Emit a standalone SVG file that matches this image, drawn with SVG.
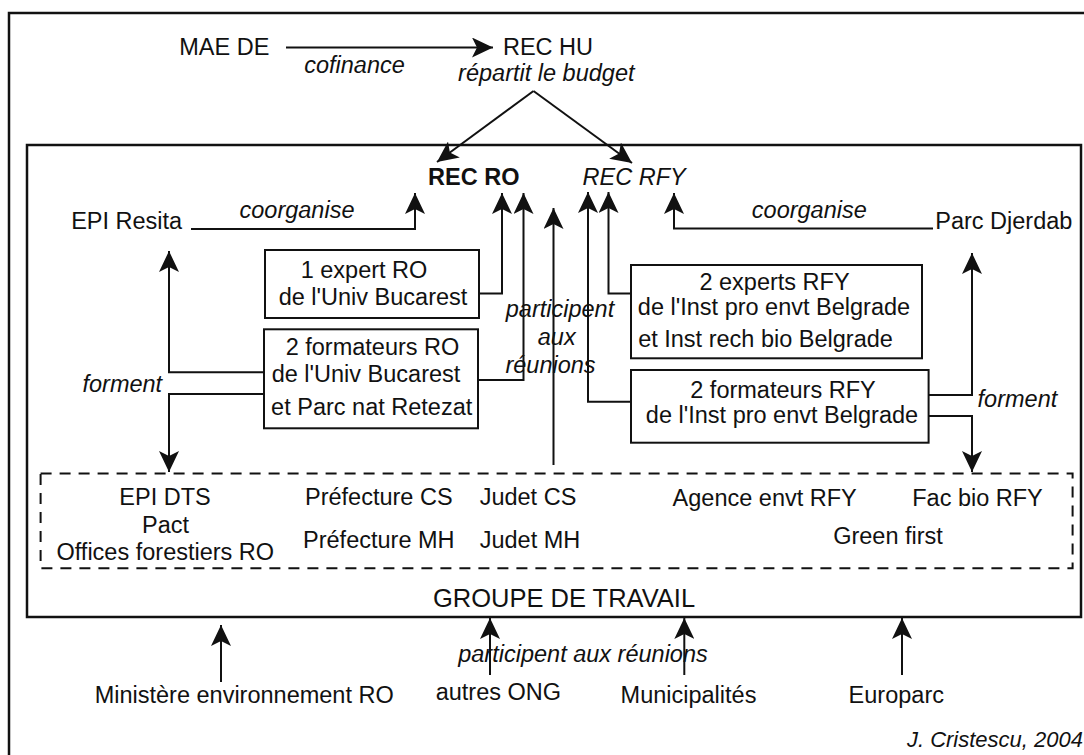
<svg xmlns="http://www.w3.org/2000/svg" width="1084" height="755" viewBox="0 0 1084 755">
<style>
  text { font-family: "Liberation Sans", Arial, sans-serif; font-size: 23.5px; fill: #111; text-anchor: middle; }
  .i { font-style: italic; }
  .b { font-weight: bold; }
  .box { fill: #fff; stroke: #111; stroke-width: 2; }
  .frame { fill: none; stroke: #111; stroke-width: 2.5; }
  .dash { fill: none; stroke: #111; stroke-width: 2; stroke-dasharray: 11 8; }
  .c { fill: none; stroke: #111; stroke-width: 2; marker-end: url(#ah); }
</style>
<defs>
  <marker id="ah" viewBox="0 0 21 20" refX="21" refY="10" markerWidth="21" markerHeight="20" markerUnits="userSpaceOnUse" orient="auto">
    <path d="M0,0 L21,10 L0,20 L5,10 z" fill="#111"/>
  </marker>
</defs>
<rect width="1084" height="755" fill="#fff"/>

<g id="outer-frame"><path class="frame" d="M9,760 V13 H1090"/></g>

<g id="groupe-de-travail">
  <rect class="frame" x="27" y="145" width="1054" height="472"/>
  <text x="564" y="606.7" style="font-size:25.5px">GROUPE DE TRAVAIL</text>
</g>

<g id="membres">
  <rect class="dash" x="40.6" y="473.5" width="1032" height="94.8"/>
  <text x="165" y="505">EPI DTS</text>
  <text x="165.5" y="532.7">Pact</text>
  <text x="165.3" y="560">Offices forestiers RO</text>
  <text x="378.8" y="505">Préfecture CS</text>
  <text x="378.8" y="548">Préfecture MH</text>
  <text x="528" y="505">Judet CS</text>
  <text x="530" y="548">Judet MH</text>
  <text x="764.7" y="506">Agence envt RFY</text>
  <text x="977.5" y="506">Fac bio RFY</text>
  <text x="888" y="544">Green first</text>
</g>

<g id="mae-de"><text x="224.3" y="55">MAE DE</text></g>
<g id="rec-hu"><text x="548" y="55">REC HU</text></g>
<g id="rec-ro"><text class="b" x="473.8" y="185">REC RO</text></g>
<g id="rec-rfy"><text class="i" x="634.2" y="185">REC RFY</text></g>
<g id="epi-resita"><text x="126.7" y="229">EPI Resita</text></g>
<g id="parc-djerdab"><text x="1003.8" y="228.5">Parc Djerdab</text></g>

<g id="expert-ro">
  <rect class="box" x="265" y="250" width="214" height="68"/>
  <text x="364" y="278.3">1 expert RO</text>
  <text x="373" y="305">de l'Univ Bucarest</text>
</g>
<g id="formateurs-ro">
  <rect class="box" x="264" y="329.3" width="214" height="99"/>
  <text x="372.5" y="355">2 formateurs RO</text>
  <text x="366" y="382.3">de l'Univ Bucarest</text>
  <text x="371.7" y="415">et Parc nat Retezat</text>
</g>
<g id="experts-rfy">
  <rect class="box" x="631" y="265" width="291" height="93.3"/>
  <text x="774.5" y="290">2 experts RFY</text>
  <text x="774" y="315">de l'Inst pro envt Belgrade</text>
  <text x="765.5" y="346.7">et Inst rech bio Belgrade</text>
</g>
<g id="formateurs-rfy">
  <rect class="box" x="631" y="370" width="297.6" height="72.7"/>
  <text x="783" y="398.3">2 formateurs RFY</text>
  <text x="782" y="423.3">de l'Inst pro envt Belgrade</text>
</g>

<g id="ministere"><text x="244.2" y="703.3">Ministère environnement RO</text></g>
<g id="autres-ong"><text x="498.4" y="700">autres ONG</text></g>
<g id="municipalites"><text x="688.5" y="703.3">Municipalités</text></g>
<g id="europarc"><text x="896.3" y="703.3">Europarc</text></g>

<g id="connectors">
  <path class="c" d="M286,47.5 H493"/>
  <path class="c" d="M533.5,91 L437,162"/>
  <path class="c" d="M533.5,91 L632,163"/>
  <path class="c" d="M191,229 H415 V193"/>
  <path class="c" d="M933,228.5 H674 V193"/>
  <path class="c" d="M479,293.5 H502 V193"/>
  <path class="c" d="M478,380 H523.5 V193"/>
  <path class="c" d="M631,293.5 H608.5 V192"/>
  <path class="c" d="M631,401.7 H588 V192"/>
  <path class="c" d="M553.5,465 V208"/>
  <path class="c" d="M264,372.3 H169 V251"/>
  <path class="c" d="M264,394 H169 V472"/>
  <path class="c" d="M928.6,395 H972 V253"/>
  <path class="c" d="M928.6,416 H972 V472"/>
  <path class="c" d="M221,682 V625"/>
  <path class="c" d="M490,675 V618"/>
  <path class="c" d="M684.3,675 V618"/>
  <path class="c" d="M902,675 V618"/>
</g>

<g id="labels">
  <text class="i" x="354.5" y="73">cofinance</text>
  <text class="i" x="546.3" y="81">répartit le budget</text>
  <text class="i" x="297" y="218">coorganise</text>
  <text class="i" x="809.3" y="218">coorganise</text>
  <text class="i" x="560" y="317">participent</text>
  <text class="i" x="556.7" y="345">aux</text>
  <text class="i" x="550.5" y="372.5">réunions</text>
  <text class="i" x="122.3" y="391.7">forment</text>
  <text class="i" x="1017.4" y="406.7">forment</text>
  <text class="i" x="583" y="661.7">participent aux réunions</text>
  <text class="i" x="1083" y="746.7" style="text-anchor:end;font-size:22px">J. Cristescu, 2004</text>
</g>
</svg>
